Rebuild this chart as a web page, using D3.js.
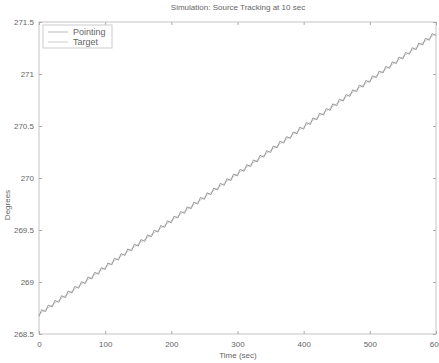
<!DOCTYPE html>
<html><head><meta charset="utf-8">
<script src="https://cdn.jsdelivr.net/npm/d3@7"></script>
<style>body{margin:0;background:#fff}svg{display:block}text{font-family:"Liberation Sans",Arial,sans-serif;fill:#666}</style>
</head><body><svg id="c" width="439" height="363"></svg>
<script>
const title = "Simulation: Source Tracking at 10 sec";
const xLabel = "Time (sec)";
const yLabel = "Degrees";
const xTicks = [0,100,200,300,400,500,600];
const yTicks = [268.5,269,269.5,270,270.5,271,271.5];
const seriesNames = ["Pointing","Target"];
const targetTime = [0,100,200,300,400,500,600];
const targetValue = [268.69,269.14,269.59,270.04,270.49,270.94,271.39];
const updatePeriod = 10, settleOffset = 4;
const pointingLow = [268.670,268.715,268.760,268.805,268.850,268.895,268.940,268.985,269.030,269.075,
269.120,269.165,269.210,269.255,269.300,269.345,269.390,269.435,269.480,269.525,
269.570,269.615,269.660,269.705,269.750,269.795,269.840,269.885,269.930,269.975,
270.020,270.065,270.110,270.155,270.200,270.245,270.290,270.335,270.380,270.425,
270.470,270.515,270.560,270.605,270.650,270.695,270.740,270.785,270.830,270.875,
270.920,270.965,271.010,271.055,271.100,271.145,271.190,271.235,271.280,271.325,271.370];
const pointingHigh = [268.733,268.778,268.823,268.868,268.913,268.958,269.003,269.048,269.093,269.138,
269.183,269.228,269.273,269.318,269.363,269.408,269.453,269.498,269.543,269.588,
269.633,269.678,269.723,269.768,269.813,269.858,269.903,269.948,269.993,270.038,
270.083,270.128,270.173,270.218,270.263,270.308,270.353,270.398,270.443,270.488,
270.533,270.578,270.623,270.668,270.713,270.758,270.803,270.848,270.893,270.938,
270.983,271.028,271.073,271.118,271.163,271.208,271.253,271.298,271.343,271.388];

const svg = d3.select("#c");
const m = {l:39, r:436, t:22, b:334};
const x = d3.scaleLinear().domain([0,600]).range([m.l,m.r]);
const y = d3.scaleLinear().domain([268.5,271.5]).range([m.b,m.t]);

svg.append("rect").attr("x",m.l).attr("y",m.t).attr("width",m.r-m.l).attr("height",m.b-m.t)
  .attr("fill","none").attr("stroke","#c4c4c4").attr("stroke-width",1);

const gx = svg.append("g").attr("transform",`translate(0,${m.b})`)
  .call(d3.axisBottom(x).tickValues(xTicks).tickSize(-3).tickPadding(7).tickFormat(d3.format("d")));
const gxt = svg.append("g").attr("transform",`translate(0,${m.t})`)
  .call(d3.axisTop(x).tickValues(xTicks).tickSize(-3).tickFormat(""));
const gy = svg.append("g").attr("transform",`translate(${m.l},0)`)
  .call(d3.axisLeft(y).tickValues(yTicks).tickSize(-3).tickPadding(5).tickFormat(d=>String(d)));
const gyr = svg.append("g").attr("transform",`translate(${m.r},0)`)
  .call(d3.axisRight(y).tickValues(yTicks).tickSize(-3).tickFormat(""));
[gx,gxt,gy,gyr].forEach(g=>{g.select(".domain").remove();g.selectAll("line").attr("stroke","#aaa");
  g.selectAll("text").attr("font-size",8).attr("fill","#777");});

const pts = [];
pointingLow.forEach((v,i)=>{pts.push([i*updatePeriod,v]); if(i<pointingHigh.length) pts.push([i*updatePeriod+settleOffset,pointingHigh[i]]);});
const line = d3.line().x(d=>x(d[0])).y(d=>y(d[1]));
svg.append("path").datum(targetTime.map((t,i)=>[t,targetValue[i]])).attr("d",line)
  .attr("fill","none").attr("stroke","#d0d0d0").attr("stroke-width",1);
svg.append("path").datum(pts).attr("d",line)
  .attr("fill","none").attr("stroke","#999").attr("stroke-width",1);

svg.append("text").attr("x",238).attr("y",10).attr("text-anchor","middle").attr("font-size",8).text(title);
svg.append("text").attr("x",238).attr("y",358).attr("text-anchor","middle").attr("font-size",8).text(xLabel);
svg.append("text").attr("transform","translate(10,205) rotate(-90)").attr("text-anchor","middle").attr("font-size",8).text(yLabel);

const lg = svg.append("g");
lg.append("rect").attr("x",43).attr("y",25).attr("width",69).attr("height",23).attr("fill","#fff").attr("stroke","#ccc");
seriesNames.forEach((n,i)=>{
  const yy = 32 + i*10;
  lg.append("line").attr("x1",48).attr("x2",68).attr("y1",yy).attr("y2",yy).attr("stroke",i===0?"#bbb":"#ccc");
  lg.append("text").attr("x",73).attr("y",yy+3).attr("font-size",9).attr("fill","#555").text(n);
});
</script></body></html>
